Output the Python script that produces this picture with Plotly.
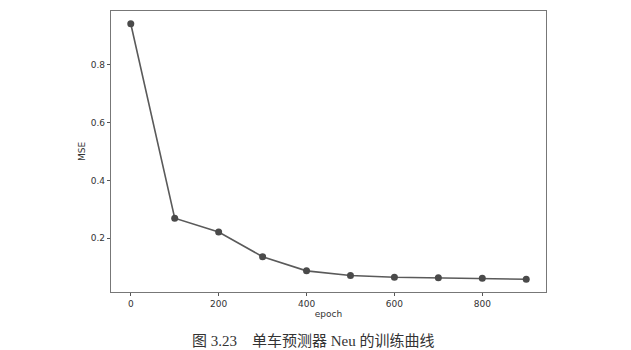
import plotly.graph_objects as go

epochs = [0, 100, 200, 300, 400, 500, 600, 700, 800, 900]
mse = [0.942, 0.269, 0.221, 0.136, 0.087, 0.071, 0.065, 0.063, 0.061, 0.058]
x_ticks = [0, 200, 400, 600, 800]
y_ticks = [0.2, 0.4, 0.6, 0.8]
y_tick_labels = ["0.2", "0.4", "0.6", "0.8"]
caption = "图 3.23\u3000单车预测器 Neu 的训练曲线"

fig = go.Figure()
fig.add_trace(go.Scatter(
    x=epochs, y=mse, mode="lines+markers",
    line=dict(color="#5a5a5a", width=1.6),
    marker=dict(color="#4a4a4a", size=7),
    showlegend=False,
))

axis_common = dict(
    showgrid=False, zeroline=False, showline=True, mirror=True,
    linecolor="#777777", linewidth=1.2, ticks="outside", ticklen=3,
    tickcolor="#555555", tickfont=dict(family="DejaVu Sans", size=9, color="#333333"),
)

fig.update_xaxes(range=[-45, 945], tickvals=x_ticks,
                 title=dict(text="epoch", font=dict(family="DejaVu Sans", size=9, color="#333333"), standoff=1),
                 **axis_common)
fig.update_yaxes(range=[0.0138, 0.986], tickvals=y_ticks, ticktext=y_tick_labels,
                 title=dict(text="MSE", font=dict(family="DejaVu Sans", size=9, color="#333333"), standoff=3),
                 **axis_common)

fig.add_annotation(
    text=caption, xref="paper", yref="paper", x=0.465, y=-0.175,
    xanchor="center", yanchor="middle", showarrow=False,
    font=dict(family="Liberation Serif, Noto Sans CJK SC", size=15, color="#333333"),
)

fig.update_layout(
    width=631, height=350,
    margin=dict(l=111, r=85, t=11, b=58),
    plot_bgcolor="white", paper_bgcolor="white",
)

fig.write_html("out.html")
